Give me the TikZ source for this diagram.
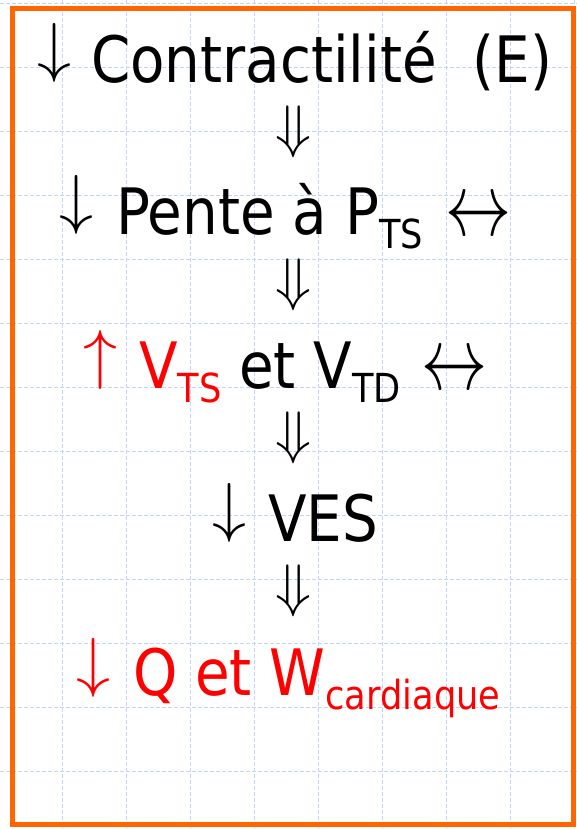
\documentclass[tikz,border=0pt]{standalone}
\usepackage{fontspec}
\setmainfont{DejaVu Sans}[FakeStretch=0.88]
\usepackage{graphicx}
\definecolor{gridblue}{RGB}{196,210,245}
\definecolor{frameorange}{RGB}{255,102,0}
\definecolor{txtred}{RGB}{255,0,0}
\newcommand{\lowsub}[1]{\raisebox{-14pt}{\fontsize{40pt}{40pt}\selectfont #1}}
\newcommand{\glyphbox}[3]{\resizebox*{#1}{#2}{$#3$}}
\begin{document}
\begin{tikzpicture}[x=1pt,y=-1pt,
  gridline/.style={draw=gridblue,line width=0.8pt,dash pattern=on 4pt off 2pt},
  frame/.style={draw=frameorange,line width=5pt},
  txt/.style={inner sep=0pt,outer sep=0pt,anchor=base west,font=\fontsize{64pt}{64pt}\selectfont},
  glyph/.style={inner sep=0pt,outer sep=0pt}]
\useasboundingbox (0,0) rectangle (577,829);
\foreach \x in {62,126,...,574} \draw[gridline] (\x,0) -- (\x,829);
\foreach \y in {3,67,...,771} \draw[gridline] (0,\y) -- (577,\y);
\draw[frame] (12.5,8.5) rectangle (573.5,824.5);
% line 1
\node[glyph] (a1) at (54,52.5) {\glyphbox{34pt}{59pt}{\downarrow}};
\node[txt] (t1) at (91,83) {Contractilité~~(E)};
\node[glyph] (d1) at (294,132) {\glyphbox{36pt}{52pt}{\Downarrow}};
% line 2
\node[glyph] (a2) at (76.5,204.5) {\glyphbox{34pt}{59pt}{\downarrow}};
\node[txt] (t2) at (116,234) {Pente à P\lowsub{TS}};
\node[glyph] (h2) at (478,219) {\glyphbox{66pt}{33pt}{\leftrightarrow}};
\node[glyph] (d2) at (294,285) {\glyphbox{36pt}{52pt}{\Downarrow}};
% line 3
\node[glyph,text=txtred] (a3) at (100.5,359.5) {\glyphbox{34pt}{59pt}{\uparrow}};
\node[txt] (t3) at (139,388) {\textcolor{txtred}{V\lowsub{TS}} et V\lowsub{TD}};
\node[glyph] (h3) at (454.5,373) {\glyphbox{66pt}{33pt}{\leftrightarrow}};
\node[glyph] (d3) at (294,438) {\glyphbox{36pt}{52pt}{\Downarrow}};
% line 4
\node[glyph] (a4) at (229.5,513) {\glyphbox{34pt}{59pt}{\downarrow}};
\node[txt] (t4) at (268,541) {VES};
\node[glyph] (d4) at (294,591) {\glyphbox{36pt}{52pt}{\Downarrow}};
% line 5
\node[glyph,text=txtred] (a5) at (93.5,667.5) {\glyphbox{34pt}{59pt}{\downarrow}};
\node[txt,text=txtred] (t5) at (133,695) {Q et W\lowsub{cardiaque}};
\end{tikzpicture}
\end{document}
